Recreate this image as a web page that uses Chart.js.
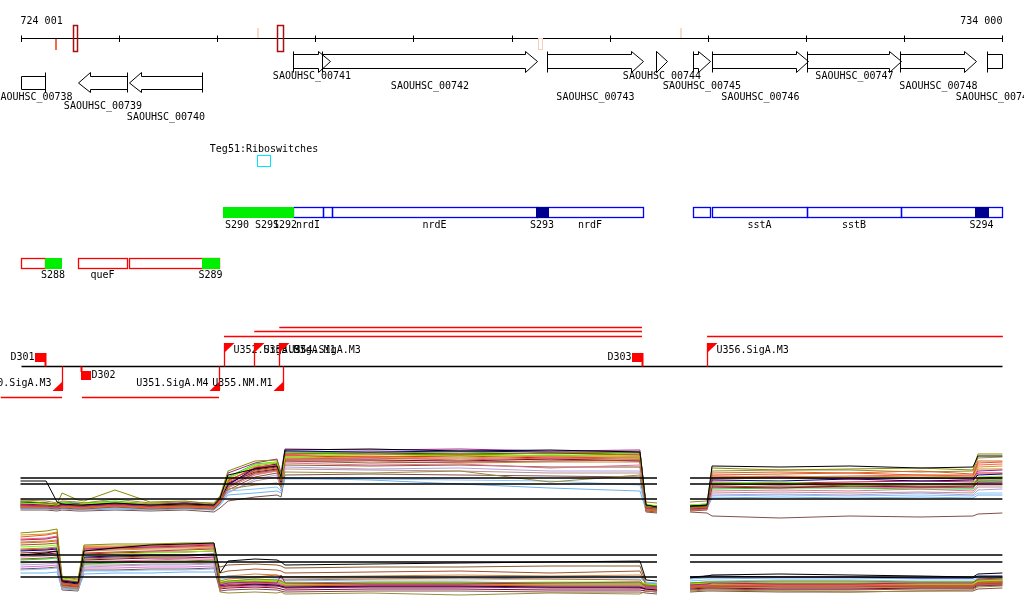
<!DOCTYPE html>
<html><head><meta charset="utf-8">
<script src="https://cdn.jsdelivr.net/npm/chart.js@4"></script>
<style>html,body{margin:0;padding:0;background:#fff;overflow:hidden}canvas{display:block}</style>
</head><body>
<canvas id="c" width="1024" height="611"></canvas>
<script>
// ---------------- DATA ----------------
const VIEW_START = 724001, VIEW_END = 734000;
const RULER_TICKS = [724001,725001,726001,727001,728001,729001,730001,731001,732001,733001,734001];
const RULER_LABELS = ['724 001', '734 000'];

const MARK_START = [724355, 724536, 726410, 726615, 729272, 730720];
const MARK_END   = [724375, 724580, 726428, 726670, 729313, 730738];
const MARK_KIND  = ['tickBelow', 'box', 'tickAbove', 'box', 'boxBelow', 'tickAbove'];
const MARK_COLOR = ['#f26b4e', '#a81010', '#f9d9cc', '#a81010', '#f7cdbd', '#f9d9cc'];

const GENE_NAMES  = ['SAOUHSC_00738','SAOUHSC_00739','SAOUHSC_00740','SAOUHSC_00741','SAOUHSC_00742','SAOUHSC_00743','SAOUHSC_00744','SAOUHSC_00745','SAOUHSC_00746','SAOUHSC_00747','SAOUHSC_00748','SAOUHSC_00749'];
const GENE_START  = [723700, 724587, 725106, 726776, 727071, 729362, 730472, 730849, 731043, 732010, 732956, 733843];
const GENE_END    = [724250, 725086, 725849, 727153, 729260, 730340, 730584, 731022, 732020, 732967, 733731, 734400];
const GENE_STRAND = [-1, -1, -1, 1, 1, 1, 1, 1, 1, 1, 1, 1];

const RIBO_NAMES = ['Teg51:Riboswitches'];
const RIBO_START = [726410];
const RIBO_END   = [726542];

const BLUE_NAMES = ['S290','S291','S292','nrdI','','nrdE','nrdF','S293','','sstA','sstB','','S294'];
const BLUE_START = [726063, 726348, 726613, 726776, 727081, 727173, 729260, 729250, 730849, 731043, 732010, 732967, 733720];
const BLUE_END   = [726348, 726674, 726776, 727081, 727173, 729260, 730340, 729373, 731022, 732010, 732967, 734010, 733853];
const BLUE_KIND  = ['srna','srna','srna','cds','cds','cds','cds','dark','cds','cds','cds','cds','dark'];

const RED_NAMES = ['', 'S288', 'queF', '', 'S289'];
const RED_START = [724001, 724250, 724587, 725106, 725849];
const RED_END   = [724250, 724414, 725086, 726022, 726022];
const RED_KIND  = ['cds', 'srna', 'cds', 'cds', 'srna'];

const TSS_NAMES  = ['U350.SigA.M3','U351.SigA.M4','U352.SigA.M3','U353.SigA.M1','U354.SigA.M3','U355.NM.M1','U356.SigA.M3'];
const TSS_POS    = [724424, 726022, 726073, 726381, 726636, 726673, 730992];
const TSS_STRAND = [-1, -1, 1, 1, 1, -1, 1];

const TERM_NAMES  = ['D301', 'D302', 'D303'];
const TERM_POS    = [724250, 724617, 730330];
const TERM_STRAND = [1, -1, 1];

const TX_START  = [726073, 726381, 726636, 730992, 723800, 724627];
const TX_END    = [730330, 730330, 730330, 734005, 724424, 726022];
const TX_STRAND = [1, 1, 1, 1, -1, -1];

// expression profiles: shared genomic positions (null = no data)
const EXPR_X = [724001,724261,724373,724424,724587,724648,724963,725320,725676,725971,726033,726114,726389,726613,726654,726694,727560,728476,729393,730309,730371,730483,730595,730819,730992,731043,731735,732448,733161,733700,733751,734000];

const REF_X = [724001, 730483, 730595, 730819, 734000];
const UPPER_REF = [[37,37,null,37,37],[31,31,null,31,31],[16,16,null,16,16]];
const LOWER_REF = [[40,40,null,40,40],[33,33,null,33,33],[18,18,null,18,18]];

const SERIES_COLORS = ['#000000','#8a8a00','#a0208c','#7cfc00','#e8542c','#000080','#d2691e','#a0522d','#9a8a3a','#8b1a1a','#e0709a','#b0a0d8','#6cb4f0','#87c4fa','#cd9b1d','#dc143c','#32cd32','#800040','#cd853f','#8b5a2b','#bc8f8f','#da70d6','#ff6347','#80504a'];

const UPPER = [
 [34,34,13,11,10,10,12,10,11,10,17,40,46,49,38,65,66,64,65,63,10,8,null,9,10,49,48,49,47,48,59,59],
 [14,12,11,22,15,14,25,13,14,11,19,44,54,55,40,62,61,60,62,63,8,6,null,7,8,47,45,46,47,45,61,61],
 [10,9,8,10,9,9,11,9,12,9,16,42,52,56,42,66,65,66,64,65,7,6,null,6,7,37,38,36,37,36,44,45],
 [12,11,10,12,10,11,13,10,11,10,17,36,50,53,36,58,61,59,60,59,11,9,null,10,11,32,33,30,31,31,38,39],
 [9,9,8,9,8,8,10,8,9,8,15,34,48,50,34,60,58,60,59,61,6,5,null,6,7,40,41,42,40,40,52,53],
 [13,12,10,11,11,10,11,10,12,10,16,30,47,51,33,64,63,64,63,63,10,9,null,9,10,35,34,36,34,35,40,41],
 [8,8,7,8,7,7,9,7,8,7,13,33,44,47,31,56,57,55,57,56,5,4,null,5,6,42,43,42,44,41,54,54],
 [7,7,6,7,6,6,8,6,7,6,12,28,42,45,30,54,52,53,54,55,4,3,null,4,5,30,31,29,30,30,36,37],
 [15,14,12,14,13,12,16,12,13,12,19,26,30,32,28,43,42,44,33,40,13,12,null,13,14,44,45,45,43,44,57,58],
 [11,10,9,10,9,9,10,9,10,9,15,31,45,48,33,61,62,61,62,60,8,7,null,8,9,28,27,29,28,28,33,33],
 [9,9,8,9,8,8,9,8,9,8,14,27,40,44,28,52,50,51,47,50,7,6,null,7,8,24,25,24,26,24,30,30],
 [8,7,7,8,7,7,8,7,8,7,12,22,36,40,26,48,46,47,44,44,6,6,null,6,7,20,21,20,22,20,25,26],
 [6,6,5,6,5,5,6,5,6,5,10,20,22,24,22,37,35,31,27,24,5,4,null,5,6,17,18,17,18,17,20,20],
 [7,7,6,7,6,6,7,6,7,6,11,24,26,28,24,36,36,35,34,30,6,5,null,6,7,19,20,19,20,19,22,22],
 [12,11,11,12,11,11,13,11,12,10,18,37,49,52,37,57,58,57,59,57,9,8,null,9,10,38,39,38,39,38,48,49],
 [11,11,10,11,10,10,12,10,11,9,16,35,46,50,35,59,58,59,57,58,8,7,null,8,9,33,32,33,34,33,42,42],
 [13,12,11,13,12,12,14,11,12,10,18,38,51,53,38,63,62,63,61,62,10,9,null,10,11,26,27,27,26,26,34,35],
 [9,8,8,9,8,8,9,8,9,7,14,32,43,46,32,55,55,54,56,54,7,6,null,7,8,31,30,31,31,31,37,38],
 [10,10,9,10,9,9,11,9,10,8,15,29,41,44,30,53,54,52,53,53,8,7,null,8,9,36,37,36,37,36,46,46],
 [8,8,7,8,7,7,8,7,8,6,13,25,38,42,29,50,49,50,48,48,6,5,null,6,7,29,28,29,28,29,35,35],
 [7,7,6,7,6,6,7,6,7,5,12,23,34,38,27,46,45,44,42,42,5,4,null,5,6,22,23,22,23,22,28,28],
 [9,9,8,9,8,8,9,8,9,7,14,30,42,46,31,57,56,57,55,55,7,6,null,7,8,27,28,27,28,27,32,33],
 [11,10,9,11,10,10,11,9,10,8,16,34,47,49,34,60,60,61,59,59,9,8,null,9,10,39,38,39,40,39,50,51],
 [5,5,4,5,4,4,5,4,5,3,7,14,18,20,18,40,41,40,39,38,3,2,null,3,2,-1,-3,-1,-2,-1,1,2]
];

const LOWER = [
 [40,42,44,14,12,44,47,50,51,52,22,34,36,35,33,30,31,32,33,34,15,14,null,17,19,20,21,20,19,18,21,22],
 [62,64,66,18,16,50,51,51,52,52,12,14,16,15,14,12,13,13,12,12,10,9,null,12,13,13,14,14,13,13,15,16],
 [55,56,58,15,13,46,47,48,49,50,10,12,13,12,20,12,11,11,12,13,8,8,null,10,11,12,11,11,12,12,16,17],
 [48,49,50,16,14,40,41,42,43,44,13,14,15,14,13,11,12,12,13,13,11,10,null,11,12,11,12,12,11,11,14,15],
 [58,60,62,12,10,48,48,49,50,51,8,10,12,11,10,9,10,10,9,9,7,6,null,9,10,9,10,10,9,9,12,13],
 [44,45,46,13,11,38,39,40,40,41,9,10,11,10,9,8,9,9,8,8,6,5,null,18,19,19,18,18,17,17,19,19],
 [52,53,54,11,9,45,46,47,48,48,14,16,18,20,17,15,16,17,16,15,9,8,null,8,9,10,9,9,10,10,13,14],
 [50,51,52,10,8,42,43,44,45,46,22,24,26,25,24,22,23,24,22,24,10,9,null,7,8,8,9,9,8,8,11,12],
 [46,47,48,8,6,36,37,38,39,40,3,2,3,2,3,1,2,0,2,1,4,3,null,4,5,5,4,3,4,5,8,9],
 [42,43,44,12,10,37,38,39,39,40,8,9,10,9,8,7,8,8,7,7,6,5,null,8,9,9,8,8,9,9,12,12],
 [38,39,40,9,7,34,34,35,36,36,7,8,9,8,15,7,8,8,9,7,5,4,null,9,10,10,11,11,10,10,13,13],
 [30,31,32,7,6,28,29,30,30,31,10,11,12,11,10,9,10,10,9,9,8,7,null,10,11,11,12,12,11,11,13,14],
 [22,22,23,6,5,21,22,22,23,23,18,19,18,17,16,16,17,17,18,18,12,11,null,16,17,17,16,16,17,17,18,18],
 [25,26,27,8,7,24,24,25,25,26,16,17,16,15,14,14,15,15,16,16,13,12,null,14,15,15,14,14,15,15,17,17],
 [60,61,63,17,15,49,49,50,51,51,11,12,14,13,12,10,11,11,10,10,9,8,null,11,12,12,13,13,12,12,15,16],
 [45,46,47,14,12,41,42,43,43,44,9,10,11,10,9,8,9,9,8,8,7,6,null,10,11,10,11,11,10,10,13,14],
 [35,36,37,11,10,31,32,33,33,34,12,13,14,13,12,11,12,12,11,11,10,9,null,12,13,13,12,12,13,13,16,16],
 [40,41,42,10,9,35,36,37,37,38,6,7,8,7,6,5,6,6,5,5,4,3,null,6,7,7,6,6,7,7,10,10],
 [53,54,55,13,11,44,45,46,46,47,17,19,21,20,19,18,19,20,19,20,11,10,null,7,8,8,7,7,8,8,11,11],
 [36,37,38,9,8,32,33,34,34,35,28,30,31,30,29,27,28,28,29,29,12,11,null,5,6,6,5,5,6,6,9,10],
 [32,33,34,8,7,30,30,31,31,32,9,10,11,10,9,8,9,9,8,8,7,6,null,9,10,9,10,10,9,9,12,12],
 [28,29,30,7,6,27,27,28,28,29,11,12,13,12,11,10,11,11,10,10,9,8,null,11,12,11,12,12,11,11,14,14],
 [56,57,59,15,13,47,47,48,48,49,10,11,12,11,10,9,10,10,9,9,8,7,null,10,11,10,11,11,10,10,13,13],
 [26,27,28,5,4,25,25,26,26,27,4,5,6,5,4,3,4,4,3,3,2,1,null,3,4,4,3,3,4,4,6,7]
];

// ---------------- LAYOUT / STYLE ----------------
const FONT = '10px "DejaVu Sans Mono", "Liberation Mono", monospace';
const Y = {
  ruler: 38.5, rulerLabel: 21,
  fwdBody: [54.5, 68.5], fwdHead: [51.5, 72.5], fwdLabels: [76, 86, 97],
  revBody: [76.5, 89.5], revHead: [72.5, 92.5], revLabels: [97, 106, 117],
  riboLabel: 149, ribo: [155.5, 166.5],
  blue: [207.5, 217.5], blueLabel: 225,
  red: [258.5, 268.5], redLabel: 275,
  base: 366.5, txFwd: [336.5, 331.5, 327.5], txRev: [397.5]
};

const snap = v => Math.round(v) + 0.5;

const featurePlugin = {
  id: 'genomeFeatures',
  afterDraw(chart) {
    const ctx = chart.ctx, xs = chart.scales.x;
    const px = v => xs.getPixelForValue(v);
    ctx.save();
    ctx.font = FONT;
    ctx.textBaseline = 'middle';
    const line = (x0, y0, x1, y1, col, w) => {
      ctx.beginPath(); ctx.strokeStyle = col || '#000'; ctx.lineWidth = w || 1;
      ctx.moveTo(x0, y0); ctx.lineTo(x1, y1); ctx.stroke();
    };
    const text = (t, x, y, align) => { ctx.fillStyle = '#000'; ctx.textAlign = align || 'left'; ctx.fillText(t, x, y); };

    // ruler
    const r0 = snap(px(VIEW_START)), r1 = snap(px(VIEW_END));
    line(r0, Y.ruler, r1, Y.ruler);
    RULER_TICKS.forEach(t => { const x = snap(px(t)); line(x, Y.ruler - 3, x, Y.ruler + 3.5); });
    text(RULER_LABELS[0], px(VIEW_START), Y.rulerLabel, 'left');
    text(RULER_LABELS[1], px(VIEW_END), Y.rulerLabel, 'right');

    // ruler marks
    MARK_KIND.forEach((k, i) => {
      const x0 = Math.round(px(MARK_START[i])), x1 = Math.max(x0 + 2, Math.round(px(MARK_END[i])));
      if (k === 'tickBelow') { ctx.fillStyle = MARK_COLOR[i]; ctx.fillRect(x0, 39, x1 - x0, 11); }
      else if (k === 'tickAbove') { ctx.fillStyle = MARK_COLOR[i]; ctx.fillRect(x0, 28, x1 - x0, 10); }
      else if (k === 'box') { ctx.strokeStyle = MARK_COLOR[i]; ctx.lineWidth = 1.5; ctx.strokeRect(x0 + 0.5, 25.5, x1 - x0, 26); }
      else { ctx.strokeStyle = MARK_COLOR[i]; ctx.lineWidth = 1; ctx.strokeRect(x0 + 0.5, 38.5, x1 - x0, 11); }
    });

    // genes
    let fwdIdx = 0, revIdx = 0;
    GENE_NAMES.forEach((name, i) => {
      const strand = GENE_STRAND[i];
      const clipL = GENE_START[i] < VIEW_START, clipR = GENE_END[i] > VIEW_END;
      const x0 = snap(px(Math.max(GENE_START[i], VIEW_START)));
      const x1 = snap(px(Math.min(GENE_END[i], VIEW_END)));
      const body = strand > 0 ? Y.fwdBody : Y.revBody;
      const head = strand > 0 ? Y.fwdHead : Y.revHead;
      const bT = body[0], bB = body[1], hT = head[0], hB = head[1], mid = (bT + bB) / 2;
      const HEAD = 12;
      ctx.strokeStyle = '#000'; ctx.lineWidth = 1;
      ctx.beginPath();
      if (strand > 0 && !clipR) {
        const hx = Math.max(x0, x1 - HEAD);
        ctx.moveTo(x0, bT); ctx.lineTo(hx, bT); ctx.lineTo(hx, hT); ctx.lineTo(x1, mid);
        ctx.lineTo(hx, hB); ctx.lineTo(hx, bB); ctx.lineTo(x0, bB); ctx.closePath();
      } else if (strand < 0 && !clipL) {
        const hx = Math.min(x1, x0 + HEAD);
        ctx.moveTo(x1, bT); ctx.lineTo(hx, bT); ctx.lineTo(hx, hT); ctx.lineTo(x0, mid);
        ctx.lineTo(hx, hB); ctx.lineTo(hx, bB); ctx.lineTo(x1, bB); ctx.closePath();
      } else {
        ctx.rect(x0, bT, x1 - x0, bB - bT);
      }
      ctx.stroke();
      if (strand > 0 && !clipL) line(x0, hT, x0, hB);
      if (strand < 0 && !clipR) line(x1, hT, x1, hB);
      let ly;
      if (strand > 0) { ly = Y.fwdLabels[fwdIdx % 3]; fwdIdx++; }
      else { ly = Y.revLabels[revIdx % 3]; revIdx++; }
      text(name, (x0 + x1) / 2, ly, 'center');
    });

    // riboswitch
    RIBO_NAMES.forEach((n, i) => {
      const x0 = snap(px(RIBO_START[i])), x1 = snap(px(RIBO_END[i]));
      ctx.strokeStyle = '#00e8ff'; ctx.lineWidth = 1;
      ctx.strokeRect(x0, Y.ribo[0], x1 - x0, Y.ribo[1] - Y.ribo[0]);
      text(n, (x0 + x1) / 2, Y.riboLabel, 'center');
    });

    // annotation tracks
    const drawTrack = (names, starts, ends, kinds, yy, ly, cdsColor) => {
      const order = kinds.map((k, i) => i).sort((a, b) => (kinds[a] === 'cds' ? 0 : 1) - (kinds[b] === 'cds' ? 0 : 1));
      order.forEach(i => {
        const x0 = snap(px(Math.max(starts[i], VIEW_START)));
        const x1 = snap(px(Math.min(ends[i], VIEW_END)));
        if (kinds[i] === 'cds') {
          ctx.strokeStyle = cdsColor; ctx.lineWidth = 1.3;
          ctx.strokeRect(x0, yy[0], x1 - x0, yy[1] - yy[0]);
        } else {
          ctx.fillStyle = kinds[i] === 'srna' ? '#00ee00' : '#000090';
          ctx.fillRect(x0 - 0.5, yy[0] - 0.5, x1 - x0 + 1, yy[1] - yy[0] + 1);
        }
      });
      names.forEach((n, i) => {
        if (!n) return;
        const x0 = px(Math.max(starts[i], VIEW_START)), x1 = px(Math.min(ends[i], VIEW_END));
        text(n, (x0 + x1) / 2, ly, 'center');
      });
    };
    drawTrack(BLUE_NAMES, BLUE_START, BLUE_END, BLUE_KIND, Y.blue, Y.blueLabel, '#0000ff');
    drawTrack(RED_NAMES, RED_START, RED_END, RED_KIND, Y.red, Y.redLabel, '#ff0000');

    // transcription units
    line(r0, Y.base, r1, Y.base, '#000', 1.3);
    const levelsEnd = { '1': [], '-1': [] };
    TX_START.forEach((s, i) => {
      const st = String(TX_STRAND[i]);
      const ends = levelsEnd[st];
      let lvl = ends.findIndex(e => e < s);
      if (lvl < 0) { lvl = ends.length; ends.push(TX_END[i]); } else ends[lvl] = TX_END[i];
      const yRows = TX_STRAND[i] > 0 ? Y.txFwd : Y.txRev;
      const y = yRows[Math.min(lvl, yRows.length - 1)];
      line(px(s), y, px(TX_END[i]), y, '#ff0000', 1.5);
    });
    // promoters (flags)
    TSS_NAMES.forEach((n, i) => {
      const x = snap(px(TSS_POS[i]));
      if (TSS_STRAND[i] > 0) {
        line(x, Y.base, x, 343, '#ff0000', 1.3);
        ctx.fillStyle = '#ff0000';
        ctx.beginPath(); ctx.moveTo(x - 0.5, 343); ctx.lineTo(x + 10, 343); ctx.lineTo(x - 0.5, 353); ctx.closePath(); ctx.fill();
        text(n, x + 9, 350, 'left');
      } else {
        line(x, Y.base, x, 390, '#ff0000', 1.3);
        ctx.fillStyle = '#ff0000';
        ctx.beginPath(); ctx.moveTo(x + 0.5, 381); ctx.lineTo(x + 0.5, 391); ctx.lineTo(x - 10, 391); ctx.closePath(); ctx.fill();
        text(n, x - 11, 383, 'right');
      }
    });
    // terminators
    TERM_NAMES.forEach((n, i) => {
      const x = snap(px(TERM_POS[i]));
      ctx.fillStyle = '#ff0000';
      if (TERM_STRAND[i] > 0) {
        ctx.fillRect(x - 10.5, 353, 10, 9);
        line(x, 353, x, Y.base, '#ff0000', 2);
        text(n, x - 11, 357.5, 'right');
      } else {
        ctx.fillRect(x - 0.5, 371, 10, 9);
        line(x, Y.base, x, 372, '#ff0000', 2);
        text(n, x + 10, 375.5, 'left');
      }
    });
    ctx.restore();
  }
};

// ---------------- DATASETS ----------------
const datasets = [];
const toPts = (xs, ys) => xs.map((x, i) => ({ x, y: ys[i] }));
UPPER_REF.forEach(r => datasets.push({ data: toPts(REF_X, r), yAxisID: 'yUp', borderColor: '#000', borderWidth: 1.5, pointRadius: 0, spanGaps: false }));
LOWER_REF.forEach(r => datasets.push({ data: toPts(REF_X, r), yAxisID: 'yLow', borderColor: '#000', borderWidth: 1.5, pointRadius: 0, spanGaps: false }));
UPPER.forEach((s, i) => datasets.push({ data: toPts(EXPR_X, s), yAxisID: 'yUp', borderColor: SERIES_COLORS[i], borderWidth: 1, pointRadius: 0, spanGaps: false }));
LOWER.forEach((s, i) => datasets.push({ data: toPts(EXPR_X, s), yAxisID: 'yLow', borderColor: SERIES_COLORS[i], borderWidth: 1, pointRadius: 0, spanGaps: false }));

new Chart(document.getElementById('c'), {
  type: 'line',
  data: { datasets },
  options: {
    responsive: false, animation: false, devicePixelRatio: 1, events: [],
    layout: { padding: 0 },
    plugins: { legend: { display: false }, tooltip: { enabled: false }, title: { display: false } },
    elements: { line: { tension: 0 }, point: { radius: 0 } },
    scales: {
      x: { type: 'linear', min: 723792, max: 734220, display: false },
      yUp: { type: 'linear', min: -96, max: 515, display: false },
      yLow: { type: 'linear', min: -16, max: 595, display: false }
    }
  },
  plugins: [featurePlugin]
});
</script>
</body></html>
